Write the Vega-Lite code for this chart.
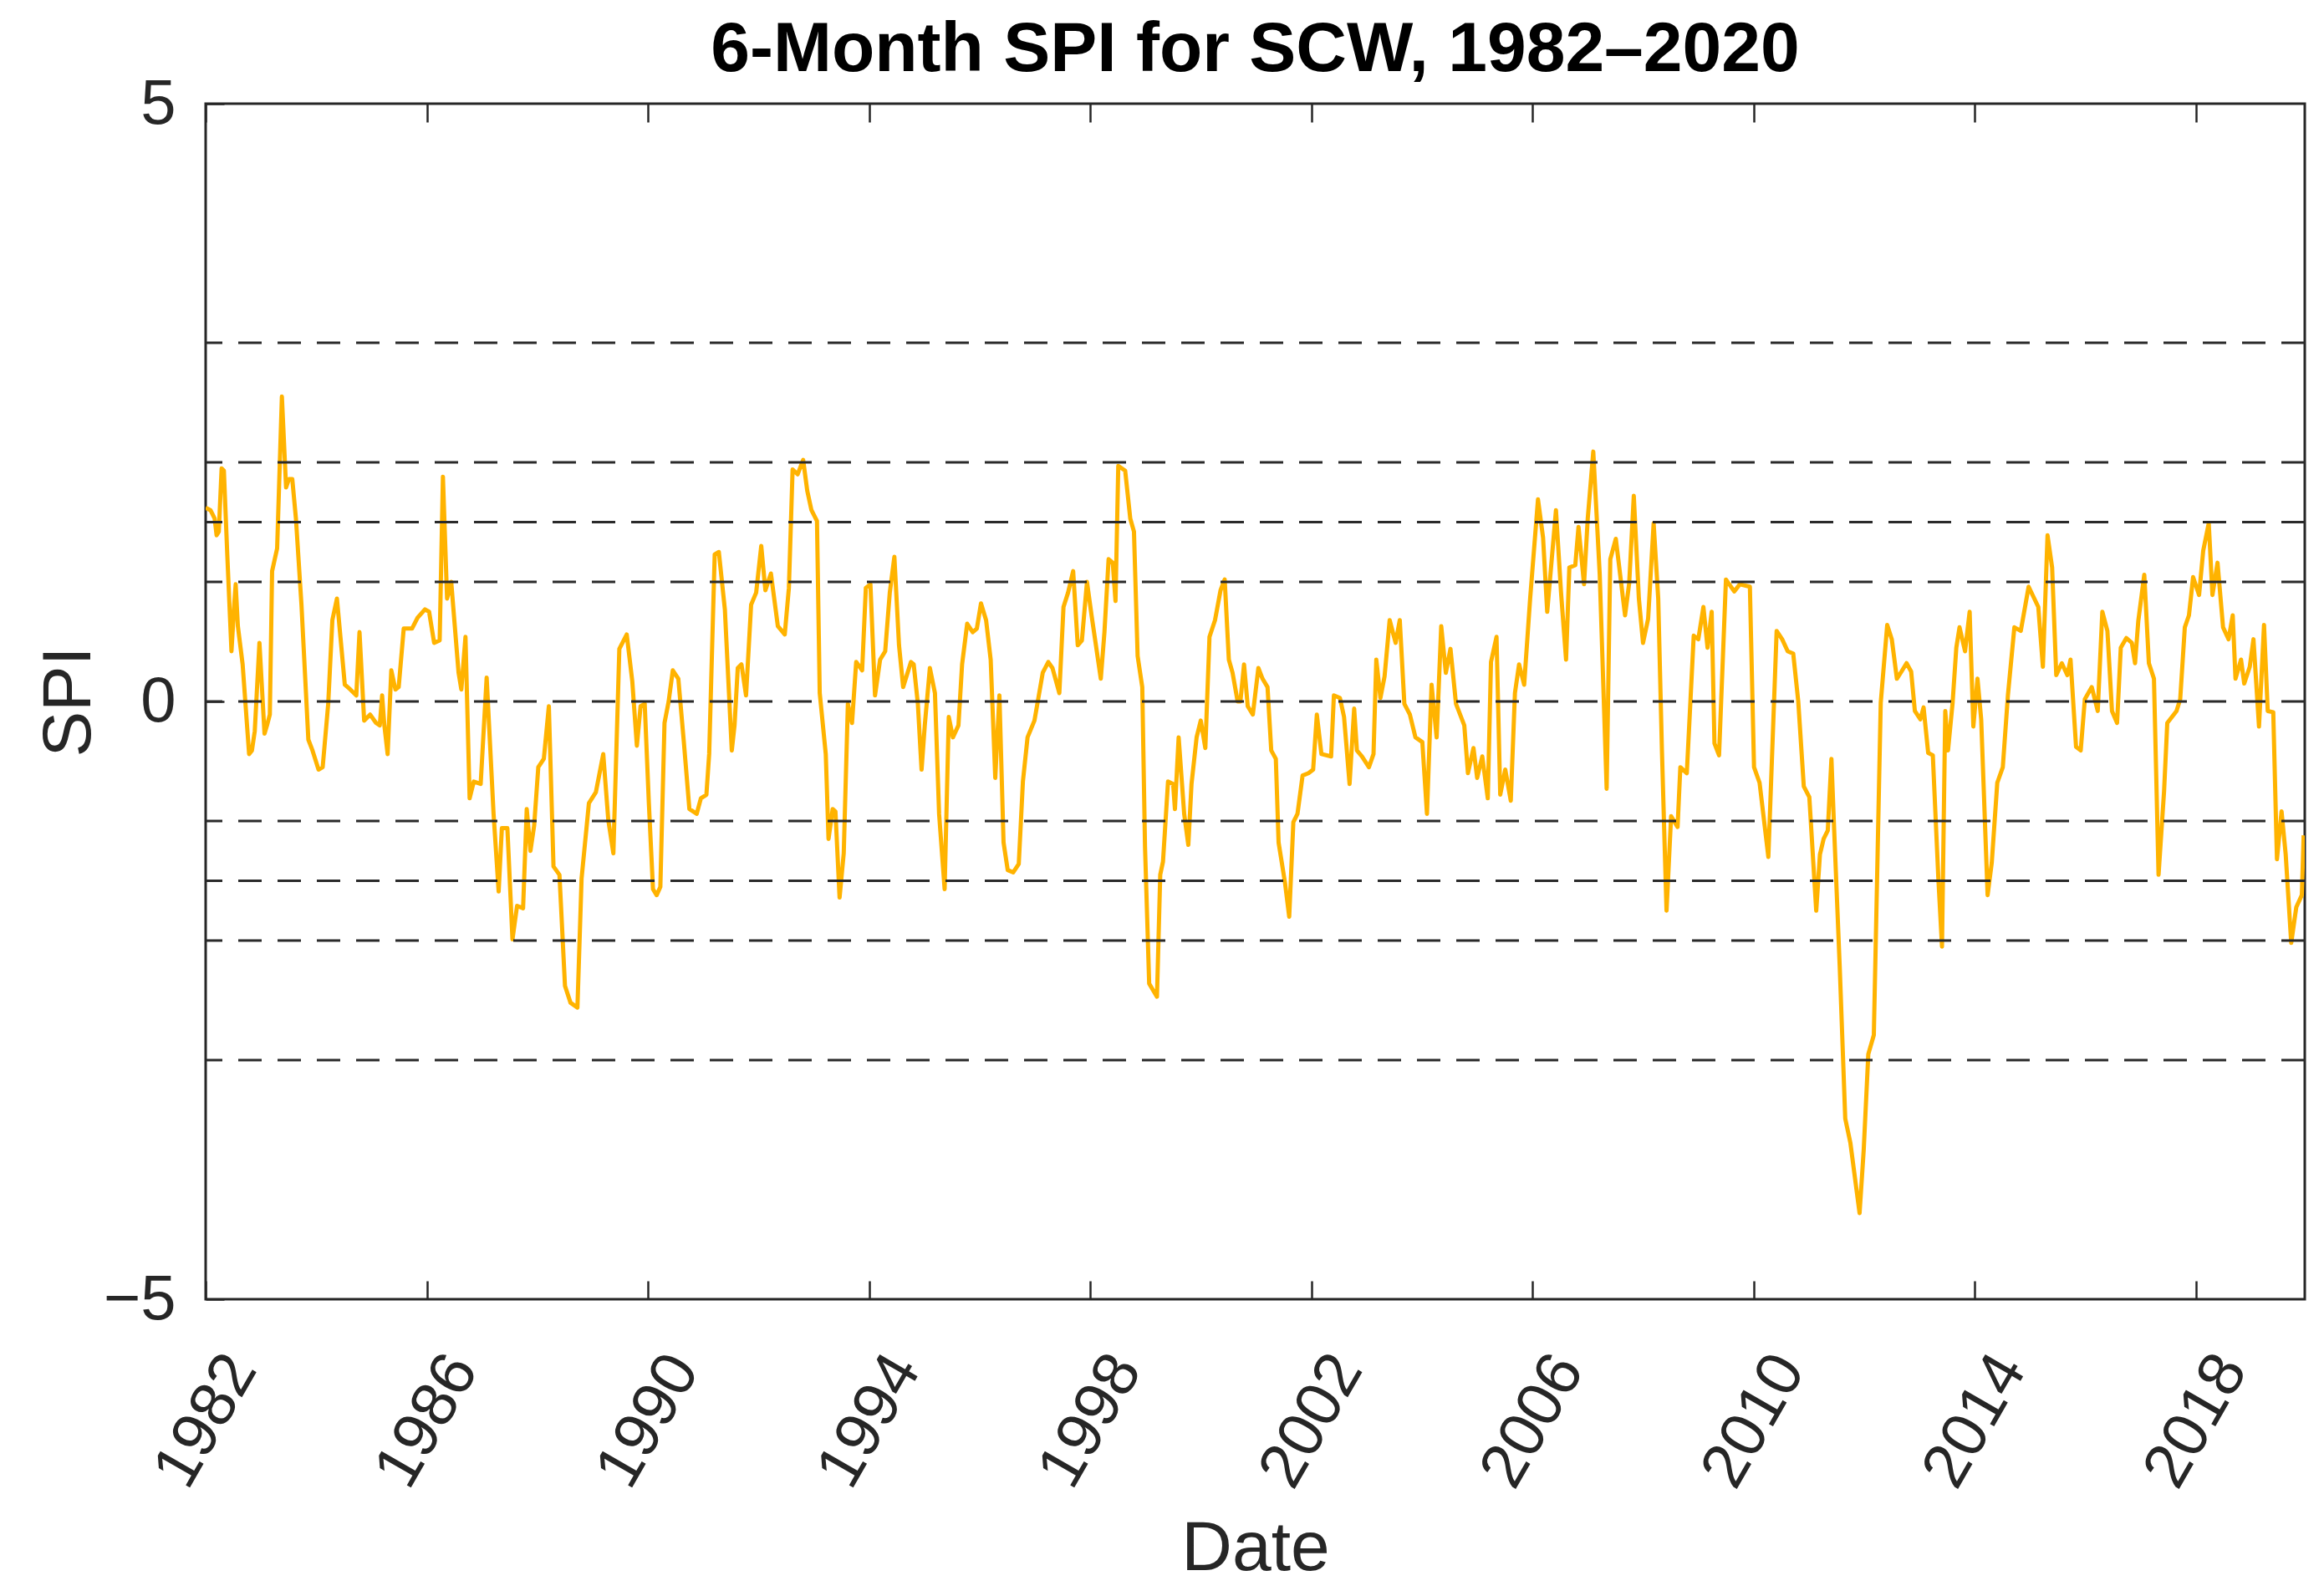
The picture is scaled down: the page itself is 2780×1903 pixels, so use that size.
{
  "$schema": "https://vega.github.io/schema/vega-lite/v6.json",
  "width": 2511,
  "height": 1430,
  "autosize": {"type": "none"},
  "padding": {"left": 246, "top": 124, "right": 23, "bottom": 349},
  "background": "white",
  "title": {
    "text": "6-Month SPI for SCW, 1982–2020",
    "font": "Liberation Sans",
    "fontSize": 84,
    "fontWeight": "bold",
    "color": "#000000",
    "anchor": "middle",
    "frame": "group",
    "baseline": "alphabetic",
    "offset": 31,
    "dy": 114
  },
  "datasets": {
    "spi": [
      {"year": 1982.000, "spi": 1.62}, {"year": 1982.087, "spi": 1.60}, {"year": 1982.163, "spi": 1.53}, {"year": 1982.198, "spi": 1.39}, {"year": 1982.238, "spi": 1.42}, {"year": 1982.289, "spi": 1.95}, {"year": 1982.330, "spi": 1.93}, {"year": 1982.391, "spi": 1.23}, {"year": 1982.467, "spi": 0.42}, {"year": 1982.517, "spi": 0.81}, {"year": 1982.543, "spi": 0.98}, {"year": 1982.583, "spi": 0.63}, {"year": 1982.669, "spi": 0.31}, {"year": 1982.786, "spi": -0.44}, {"year": 1982.837, "spi": -0.41}, {"year": 1982.888, "spi": -0.25}, {"year": 1982.973, "spi": 0.49}, {"year": 1983.065, "spi": -0.27}, {"year": 1983.110, "spi": -0.20}, {"year": 1983.161, "spi": -0.11}, {"year": 1983.202, "spi": 1.09}, {"year": 1983.293, "spi": 1.28}, {"year": 1983.379, "spi": 2.55}, {"year": 1983.455, "spi": 1.79}, {"year": 1983.506, "spi": 1.86}, {"year": 1983.567, "spi": 1.86}, {"year": 1983.633, "spi": 1.53}, {"year": 1983.733, "spi": 0.81}, {"year": 1983.858, "spi": -0.32}, {"year": 1983.933, "spi": -0.41}, {"year": 1984.042, "spi": -0.57}, {"year": 1984.117, "spi": -0.55}, {"year": 1984.217, "spi": -0.02}, {"year": 1984.292, "spi": 0.68}, {"year": 1984.375, "spi": 0.86}, {"year": 1984.517, "spi": 0.14}, {"year": 1984.617, "spi": 0.10}, {"year": 1984.725, "spi": 0.05}, {"year": 1984.783, "spi": 0.58}, {"year": 1984.867, "spi": -0.16}, {"year": 1984.975, "spi": -0.11}, {"year": 1985.083, "spi": -0.18}, {"year": 1985.150, "spi": -0.20}, {"year": 1985.192, "spi": 0.05}, {"year": 1985.233, "spi": -0.20}, {"year": 1985.292, "spi": -0.44}, {"year": 1985.358, "spi": 0.26}, {"year": 1985.433, "spi": 0.10}, {"year": 1985.492, "spi": 0.12}, {"year": 1985.583, "spi": 0.61}, {"year": 1985.733, "spi": 0.61}, {"year": 1985.833, "spi": 0.70}, {"year": 1985.967, "spi": 0.77}, {"year": 1986.042, "spi": 0.75}, {"year": 1986.133, "spi": 0.49}, {"year": 1986.233, "spi": 0.51}, {"year": 1986.292, "spi": 1.88}, {"year": 1986.367, "spi": 0.86}, {"year": 1986.442, "spi": 1.00}, {"year": 1986.575, "spi": 0.24}, {"year": 1986.625, "spi": 0.10}, {"year": 1986.700, "spi": 0.54}, {"year": 1986.775, "spi": -0.81}, {"year": 1986.850, "spi": -0.67}, {"year": 1986.975, "spi": -0.69}, {"year": 1987.083, "spi": 0.20},
      {"year": 1987.208, "spi": -0.94}, {"year": 1987.300, "spi": -1.59}, {"year": 1987.358, "spi": -1.06}, {"year": 1987.458, "spi": -1.06}, {"year": 1987.550, "spi": -1.99}, {"year": 1987.633, "spi": -1.71}, {"year": 1987.742, "spi": -1.73}, {"year": 1987.808, "spi": -0.90}, {"year": 1987.875, "spi": -1.25}, {"year": 1987.942, "spi": -1.04}, {"year": 1988.017, "spi": -0.55}, {"year": 1988.117, "spi": -0.48}, {"year": 1988.208, "spi": -0.04}, {"year": 1988.292, "spi": -1.38}, {"year": 1988.400, "spi": -1.45}, {"year": 1988.500, "spi": -2.38}, {"year": 1988.600, "spi": -2.52}, {"year": 1988.725, "spi": -2.56}, {"year": 1988.800, "spi": -1.48}, {"year": 1988.933, "spi": -0.85}, {"year": 1989.058, "spi": -0.76}, {"year": 1989.192, "spi": -0.44}, {"year": 1989.283, "spi": -0.99}, {"year": 1989.375, "spi": -1.27}, {"year": 1989.483, "spi": 0.44}, {"year": 1989.617, "spi": 0.56}, {"year": 1989.717, "spi": 0.17}, {"year": 1989.800, "spi": -0.37}, {"year": 1989.867, "spi": -0.04}, {"year": 1989.942, "spi": -0.02}, {"year": 1990.017, "spi": -0.85}, {"year": 1990.092, "spi": -1.57}, {"year": 1990.158, "spi": -1.62}, {"year": 1990.225, "spi": -1.55}, {"year": 1990.300, "spi": -0.18}, {"year": 1990.375, "spi": 0.00}, {"year": 1990.450, "spi": 0.26}, {"year": 1990.550, "spi": 0.19}, {"year": 1990.650, "spi": -0.34}, {"year": 1990.750, "spi": -0.90}, {"year": 1990.883, "spi": -0.94}, {"year": 1990.958, "spi": -0.81}, {"year": 1991.058, "spi": -0.78}, {"year": 1991.108, "spi": -0.44}, {"year": 1991.208, "spi": 1.23}, {"year": 1991.283, "spi": 1.25}, {"year": 1991.392, "spi": 0.77}, {"year": 1991.517, "spi": -0.41}, {"year": 1991.567, "spi": -0.20}, {"year": 1991.625, "spi": 0.28}, {"year": 1991.692, "spi": 0.31}, {"year": 1991.775, "spi": 0.05}, {"year": 1991.867, "spi": 0.81}, {"year": 1991.958, "spi": 0.91}, {"year": 1992.050, "spi": 1.30}, {"year": 1992.125, "spi": 0.93},
      {"year": 1992.225, "spi": 1.07}, {"year": 1992.350, "spi": 0.63}, {"year": 1992.475, "spi": 0.56}, {"year": 1992.550, "spi": 0.95}, {"year": 1992.617, "spi": 1.94}, {"year": 1992.708, "spi": 1.90}, {"year": 1992.808, "spi": 2.02}, {"year": 1992.883, "spi": 1.76}, {"year": 1992.958, "spi": 1.60}, {"year": 1993.058, "spi": 1.51}, {"year": 1993.108, "spi": 0.07}, {"year": 1993.217, "spi": -0.44}, {"year": 1993.267, "spi": -1.15}, {"year": 1993.342, "spi": -0.90}, {"year": 1993.392, "spi": -0.92}, {"year": 1993.467, "spi": -1.64}, {"year": 1993.542, "spi": -1.27}, {"year": 1993.617, "spi": -0.02}, {"year": 1993.692, "spi": -0.18}, {"year": 1993.767, "spi": 0.33}, {"year": 1993.875, "spi": 0.26}, {"year": 1993.942, "spi": 0.95}, {"year": 1994.025, "spi": 0.98}, {"year": 1994.108, "spi": 0.05}, {"year": 1994.200, "spi": 0.35}, {"year": 1994.292, "spi": 0.42}, {"year": 1994.375, "spi": 0.91}, {"year": 1994.458, "spi": 1.21}, {"year": 1994.542, "spi": 0.47}, {"year": 1994.617, "spi": 0.12}, {"year": 1994.758, "spi": 0.33}, {"year": 1994.808, "spi": 0.31}, {"year": 1994.883, "spi": -0.02}, {"year": 1994.950, "spi": -0.57}, {"year": 1995.008, "spi": -0.20}, {"year": 1995.100, "spi": 0.28}, {"year": 1995.192, "spi": 0.07}, {"year": 1995.267, "spi": -0.94}, {"year": 1995.367, "spi": -1.57}, {"year": 1995.442, "spi": -0.13}, {"year": 1995.517, "spi": -0.30}, {"year": 1995.617, "spi": -0.20}, {"year": 1995.683, "spi": 0.31}, {"year": 1995.775, "spi": 0.65}, {"year": 1995.875, "spi": 0.58}, {"year": 1995.950, "spi": 0.61}, {"year": 1996.025, "spi": 0.82}, {"year": 1996.117, "spi": 0.68}, {"year": 1996.200, "spi": 0.35}, {"year": 1996.283, "spi": -0.64}, {"year": 1996.358, "spi": 0.05}, {"year": 1996.433, "spi": -1.18}, {"year": 1996.508, "spi": -1.41}, {"year": 1996.608, "spi": -1.43}, {"year": 1996.708, "spi": -1.36}, {"year": 1996.783, "spi": -0.67}, {"year": 1996.867, "spi": -0.30}, {"year": 1996.992, "spi": -0.16},
      {"year": 1997.142, "spi": 0.24}, {"year": 1997.242, "spi": 0.33}, {"year": 1997.317, "spi": 0.28}, {"year": 1997.442, "spi": 0.07}, {"year": 1997.517, "spi": 0.79}, {"year": 1997.600, "spi": 0.91}, {"year": 1997.692, "spi": 1.09}, {"year": 1997.775, "spi": 0.47}, {"year": 1997.850, "spi": 0.51}, {"year": 1997.942, "spi": 1.00}, {"year": 1998.025, "spi": 0.72}, {"year": 1998.192, "spi": 0.19}, {"year": 1998.258, "spi": 0.58}, {"year": 1998.333, "spi": 1.19}, {"year": 1998.408, "spi": 1.16}, {"year": 1998.458, "spi": 0.84}, {"year": 1998.508, "spi": 1.97}, {"year": 1998.633, "spi": 1.93}, {"year": 1998.725, "spi": 1.53}, {"year": 1998.792, "spi": 1.42}, {"year": 1998.858, "spi": 0.38}, {"year": 1998.942, "spi": 0.12}, {"year": 1998.992, "spi": -1.22}, {"year": 1999.067, "spi": -2.36}, {"year": 1999.208, "spi": -2.47}, {"year": 1999.267, "spi": -1.45}, {"year": 1999.317, "spi": -1.34}, {"year": 1999.408, "spi": -0.67}, {"year": 1999.500, "spi": -0.69}, {"year": 1999.533, "spi": -0.90}, {"year": 1999.600, "spi": -0.30}, {"year": 1999.700, "spi": -0.94}, {"year": 1999.775, "spi": -1.20}, {"year": 1999.833, "spi": -0.69}, {"year": 1999.925, "spi": -0.30}, {"year": 2000.000, "spi": -0.16}, {"year": 2000.083, "spi": -0.39}, {"year": 2000.158, "spi": 0.54}, {"year": 2000.258, "spi": 0.68}, {"year": 2000.358, "spi": 0.93}, {"year": 2000.433, "spi": 1.02}, {"year": 2000.508, "spi": 0.35}, {"year": 2000.575, "spi": 0.24}, {"year": 2000.667, "spi": 0.00}, {"year": 2000.717, "spi": 0.00}, {"year": 2000.783, "spi": 0.31}, {"year": 2000.850, "spi": -0.04}, {"year": 2000.942, "spi": -0.11}, {"year": 2001.042, "spi": 0.28}, {"year": 2001.117, "spi": 0.19}, {"year": 2001.208, "spi": 0.12}, {"year": 2001.275, "spi": -0.41}, {"year": 2001.358, "spi": -0.48}, {"year": 2001.408, "spi": -1.18}, {"year": 2001.525, "spi": -1.52}, {"year": 2001.600, "spi": -1.80}, {"year": 2001.675, "spi": -1.01}, {"year": 2001.750, "spi": -0.94}, {"year": 2001.842, "spi": -0.62}, {"year": 2001.950, "spi": -0.60}, {"year": 2002.033, "spi": -0.57}, {"year": 2002.100, "spi": -0.11},
      {"year": 2002.183, "spi": -0.44}, {"year": 2002.358, "spi": -0.46}, {"year": 2002.408, "spi": 0.05}, {"year": 2002.517, "spi": 0.03}, {"year": 2002.592, "spi": -0.13}, {"year": 2002.692, "spi": -0.69}, {"year": 2002.775, "spi": -0.06}, {"year": 2002.825, "spi": -0.41}, {"year": 2002.917, "spi": -0.46}, {"year": 2003.042, "spi": -0.55}, {"year": 2003.125, "spi": -0.44}, {"year": 2003.175, "spi": 0.35}, {"year": 2003.250, "spi": 0.03}, {"year": 2003.325, "spi": 0.21}, {"year": 2003.417, "spi": 0.68}, {"year": 2003.525, "spi": 0.49}, {"year": 2003.600, "spi": 0.68}, {"year": 2003.683, "spi": -0.02}, {"year": 2003.783, "spi": -0.11}, {"year": 2003.883, "spi": -0.30}, {"year": 2004.008, "spi": -0.34}, {"year": 2004.092, "spi": -0.94}, {"year": 2004.175, "spi": 0.14}, {"year": 2004.267, "spi": -0.30}, {"year": 2004.350, "spi": 0.63}, {"year": 2004.433, "spi": 0.24}, {"year": 2004.517, "spi": 0.44}, {"year": 2004.617, "spi": -0.02}, {"year": 2004.767, "spi": -0.20}, {"year": 2004.833, "spi": -0.60}, {"year": 2004.933, "spi": -0.39}, {"year": 2005.000, "spi": -0.64}, {"year": 2005.092, "spi": -0.46}, {"year": 2005.192, "spi": -0.81}, {"year": 2005.250, "spi": 0.33}, {"year": 2005.350, "spi": 0.54}, {"year": 2005.417, "spi": -0.78}, {"year": 2005.508, "spi": -0.57}, {"year": 2005.608, "spi": -0.83}, {"year": 2005.683, "spi": 0.07}, {"year": 2005.758, "spi": 0.31}, {"year": 2005.850, "spi": 0.14}, {"year": 2005.958, "spi": 0.86}, {"year": 2006.100, "spi": 1.69}, {"year": 2006.192, "spi": 1.37}, {"year": 2006.267, "spi": 0.75}, {"year": 2006.425, "spi": 1.60}, {"year": 2006.517, "spi": 0.91}, {"year": 2006.608, "spi": 0.35}, {"year": 2006.667, "spi": 1.12}, {"year": 2006.775, "spi": 1.14}, {"year": 2006.833, "spi": 1.46}, {"year": 2006.933, "spi": 0.98}, {"year": 2007.000, "spi": 1.53}, {"year": 2007.100, "spi": 2.09},
      {"year": 2007.217, "spi": 1.06}, {"year": 2007.342, "spi": -0.73}, {"year": 2007.408, "spi": 1.19}, {"year": 2007.508, "spi": 1.36}, {"year": 2007.675, "spi": 0.72}, {"year": 2007.750, "spi": 0.99}, {"year": 2007.833, "spi": 1.72}, {"year": 2007.925, "spi": 0.86}, {"year": 2008.000, "spi": 0.49}, {"year": 2008.092, "spi": 0.69}, {"year": 2008.192, "spi": 1.49}, {"year": 2008.275, "spi": 0.86}, {"year": 2008.342, "spi": -0.41}, {"year": 2008.425, "spi": -1.75}, {"year": 2008.508, "spi": -0.96}, {"year": 2008.625, "spi": -1.05}, {"year": 2008.675, "spi": -0.55}, {"year": 2008.792, "spi": -0.60}, {"year": 2008.917, "spi": 0.55}, {"year": 2009.000, "spi": 0.52}, {"year": 2009.092, "spi": 0.79}, {"year": 2009.167, "spi": 0.45}, {"year": 2009.242, "spi": 0.75}, {"year": 2009.292, "spi": -0.35}, {"year": 2009.375, "spi": -0.45}, {"year": 2009.500, "spi": 1.02}, {"year": 2009.650, "spi": 0.92}, {"year": 2009.750, "spi": 0.98}, {"year": 2009.933, "spi": 0.96}, {"year": 2010.008, "spi": -0.55}, {"year": 2010.108, "spi": -0.68}, {"year": 2010.267, "spi": -1.30}, {"year": 2010.417, "spi": 0.59},
      {"year": 2010.517, "spi": 0.52}, {"year": 2010.617, "spi": 0.42}, {"year": 2010.717, "spi": 0.40}, {"year": 2010.808, "spi": 0.00}, {"year": 2010.908, "spi": -0.71}, {"year": 2011.008, "spi": -0.80}, {"year": 2011.133, "spi": -1.75}, {"year": 2011.200, "spi": -1.28}, {"year": 2011.267, "spi": -1.15}, {"year": 2011.342, "spi": -1.08}, {"year": 2011.408, "spi": -0.48}, {"year": 2011.458, "spi": -1.08}, {"year": 2011.558, "spi": -2.22}, {"year": 2011.658, "spi": -3.49}, {"year": 2011.750, "spi": -3.69}, {"year": 2011.917, "spi": -4.28}, {"year": 2011.992, "spi": -3.75}, {"year": 2012.075, "spi": -2.95}, {"year": 2012.175, "spi": -2.79}, {"year": 2012.300, "spi": -0.01}, {"year": 2012.417, "spi": 0.64}, {"year": 2012.500, "spi": 0.52}, {"year": 2012.592, "spi": 0.19}, {"year": 2012.675, "spi": 0.25}, {"year": 2012.767, "spi": 0.32}, {"year": 2012.850, "spi": 0.25}, {"year": 2012.917, "spi": -0.08}, {"year": 2013.017, "spi": -0.15}, {"year": 2013.075, "spi": -0.05}, {"year": 2013.158, "spi": -0.43}, {"year": 2013.242, "spi": -0.45}, {"year": 2013.342, "spi": -1.48}, {"year": 2013.408, "spi": -2.05}, {"year": 2013.467, "spi": -0.08}, {"year": 2013.517, "spi": -0.41}, {"year": 2013.600, "spi": -0.01}, {"year": 2013.667, "spi": 0.45}, {"year": 2013.725, "spi": 0.62}, {"year": 2013.825, "spi": 0.42}, {"year": 2013.908, "spi": 0.75}, {"year": 2013.975, "spi": -0.21}, {"year": 2014.050, "spi": 0.19}, {"year": 2014.117, "spi": -0.15}, {"year": 2014.233, "spi": -1.62}, {"year": 2014.308, "spi": -1.35}, {"year": 2014.408, "spi": -0.68}, {"year": 2014.508, "spi": -0.55}, {"year": 2014.600, "spi": 0.05}, {"year": 2014.717, "spi": 0.62}, {"year": 2014.833, "spi": 0.59}, {"year": 2014.975, "spi": 0.96}, {"year": 2015.150, "spi": 0.79}, {"year": 2015.233, "spi": 0.29}, {"year": 2015.317, "spi": 1.39}, {"year": 2015.400, "spi": 1.12}, {"year": 2015.475, "spi": 0.22}, {"year": 2015.575, "spi": 0.32}, {"year": 2015.675, "spi": 0.22}, {"year": 2015.733, "spi": 0.35}, {"year": 2015.833, "spi": -0.38}, {"year": 2015.917, "spi": -0.41}, {"year": 2015.992, "spi": 0.02}, {"year": 2016.117, "spi": 0.12}, {"year": 2016.225, "spi": -0.08}, {"year": 2016.308, "spi": 0.75}, {"year": 2016.400, "spi": 0.59}, {"year": 2016.483, "spi": -0.08}, {"year": 2016.575, "spi": -0.18}, {"year": 2016.642, "spi": 0.45}, {"year": 2016.742, "spi": 0.53}, {"year": 2016.842, "spi": 0.49}, {"year": 2016.900, "spi": 0.32}, {"year": 2016.958, "spi": 0.67}, {"year": 2017.067, "spi": 1.06}, {"year": 2017.150, "spi": 0.32}, {"year": 2017.242, "spi": 0.19}, {"year": 2017.325, "spi": -1.45}, {"year": 2017.425, "spi": -0.75}, {"year": 2017.483, "spi": -0.18}, {"year": 2017.650, "spi": -0.08}, {"year": 2017.717, "spi": 0.02}, {"year": 2017.800, "spi": 0.62}, {"year": 2017.875, "spi": 0.72}, {"year": 2017.950, "spi": 1.04}, {"year": 2018.058, "spi": 0.89}, {"year": 2018.133, "spi": 1.26}, {"year": 2018.233, "spi": 1.49}, {"year": 2018.300, "spi": 0.89}, {"year": 2018.392, "spi": 1.16}, {"year": 2018.492, "spi": 0.62}, {"year": 2018.592, "spi": 0.52}, {"year": 2018.667, "spi": 0.72}, {"year": 2018.717, "spi": 0.19}, {"year": 2018.817, "spi": 0.35}, {"year": 2018.875, "spi": 0.15}, {"year": 2018.975, "spi": 0.29}, {"year": 2019.042, "spi": 0.52}, {"year": 2019.142, "spi": -0.21}, {"year": 2019.233, "spi": 0.64}, {"year": 2019.300, "spi": -0.08}, {"year": 2019.400, "spi": -0.09}, {"year": 2019.467, "spi": -1.32}, {"year": 2019.550, "spi": -0.92}, {"year": 2019.625, "spi": -1.28}, {"year": 2019.725, "spi": -2.02}, {"year": 2019.817, "spi": -1.72}, {"year": 2019.917, "spi": -1.62}, {"year": 2019.950, "spi": -1.12}
    ],
    "levels": [
      {"level": 3}, {"level": 2}, {"level": 1.5}, {"level": 1}, {"level": 0},
      {"level": -1}, {"level": -1.5}, {"level": -2}, {"level": -3}
    ]
  },
  "layer": [
    {
      "data": {"name": "spi"},
      "mark": {"type": "line", "color": "#FFB300", "strokeWidth": 5, "strokeJoin": "round", "clip": true},
      "encoding": {
        "x": {
          "field": "year",
          "type": "quantitative",
          "scale": {"domain": [1982, 2019.97], "nice": false, "zero": false},
          "axis": {
            "orient": "bottom",
            "values": [1982, 1986, 1990, 1994, 1998, 2002, 2006, 2010, 2014, 2018],
            "format": "d",
            "grid": false,
            "domain": false,
            "ticks": true,
            "tickSize": -22,
            "tickWidth": 2.5,
            "tickColor": "#262626",
            "labelAngle": -60,
            "labelAlign": "center",
            "labelBaseline": "middle",
            "labelPadding": 167,
            "labelFont": "Liberation Sans",
            "labelFontSize": 76,
            "labelColor": "#262626",
            "labelOverlap": false,
            "labelFlush": false,
            "title": "Date",
            "titleFont": "Liberation Sans",
            "titleFontSize": 84,
            "titleFontWeight": "normal",
            "titleColor": "#262626",
            "titleBaseline": "alphabetic",
            "titleAnchor": "middle",
            "titleY": 323
          }
        },
        "y": {
          "field": "spi",
          "type": "quantitative",
          "scale": {"domain": [-5, 5], "nice": false, "zero": false},
          "title": "SPI",
          "axis": {
            "orient": "left",
            "values": [-5, 0, 5],
            "format": "d",
            "grid": false,
            "domain": false,
            "ticks": true,
            "tickSize": -22,
            "tickWidth": 2.5,
            "tickColor": "#262626",
            "labels": true,
            "labelPadding": 58,
            "labelFont": "Liberation Sans",
            "labelFontSize": 76,
            "labelColor": "#262626",
            "labelFlush": false,
            "labelOverlap": false,
            "title": "SPI",
            "titleFont": "Liberation Sans",
            "titleFontSize": 82,
            "titleFontWeight": "normal",
            "titleColor": "#262626",
            "titleAngle": 270,
            "titleBaseline": "alphabetic",
            "titleAnchor": "middle",
            "titleX": -139,
            "titleY": 715
          }
        }
      }
    },
    {
      "data": {"name": "spi"},
      "mark": {"type": "line", "strokeOpacity": 0, "color": "#FFB300"},
      "encoding": {
        "x": {
          "field": "year",
          "type": "quantitative",
          "axis": {
            "orient": "top",
            "values": [1982, 1986, 1990, 1994, 1998, 2002, 2006, 2010, 2014, 2018],
            "labels": false,
            "grid": false,
            "domain": false,
            "ticks": true,
            "tickSize": -22,
            "tickWidth": 2.5,
            "tickColor": "#262626",
            "title": null
          }
        },
        "y": {"field": "spi", "type": "quantitative", "title": "SPI"}
      }
    },
    {
      "data": {"name": "levels"},
      "mark": {"type": "rule", "color": "#2a2a2a", "strokeWidth": 3, "strokeDash": [28, 19]},
      "encoding": {
        "y": {"field": "level", "type": "quantitative", "title": "SPI"}
      }
    }
  ],
  "resolve": {"axis": {"x": "independent", "y": "shared"}},
  "config": {
    "view": {"stroke": "#262626", "strokeWidth": 3, "fill": "white"},
    "font": "Liberation Sans"
  }
}
